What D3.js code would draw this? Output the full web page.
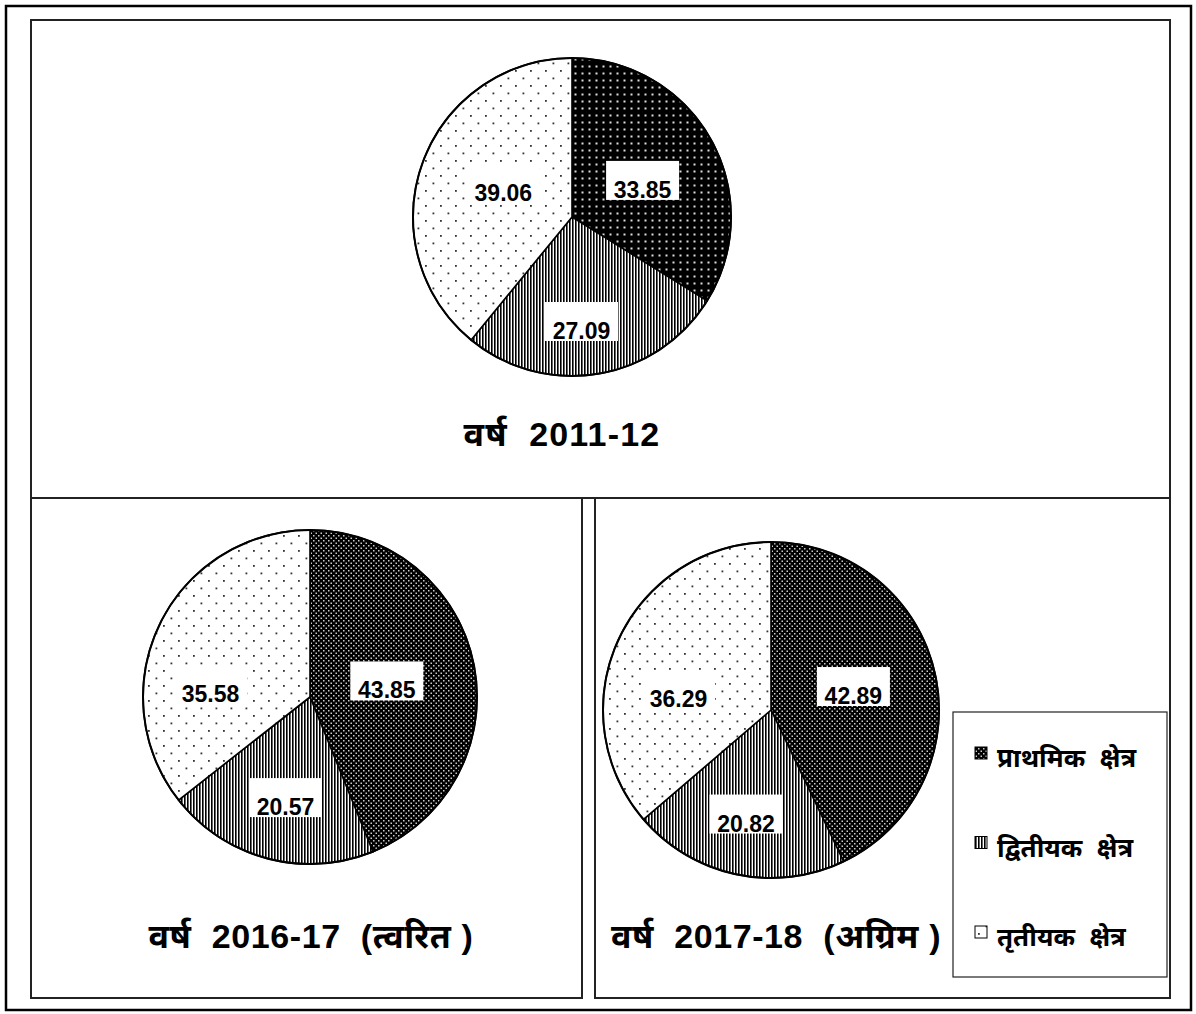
<!DOCTYPE html>
<html>
<head>
<meta charset="utf-8">
<script src="https://cdn.jsdelivr.net/npm/d3@7"></script>
<style>
  html, body { margin: 0; padding: 0; background: #fff; }
  svg { display: block; }
  text { font-family: "Liberation Sans", Arial, "Noto Sans", "Noto Sans Devanagari", sans-serif; font-weight: bold; }
</style>
</head>
<body>
<svg id="chart" width="1196" height="1014"></svg>
<script>
// ---- data ----
const years = ["वर्ष  2011-12", "वर्ष  2016-17  (त्वरित )", "वर्ष  2017-18  (अग्रिम )"];
const sectors = ["प्राथमिक  क्षेत्र", "द्वितीयक  क्षेत्र", "तृतीयक  क्षेत्र"];
const primary = [33.85, 43.85, 42.89];
const secondary = [27.09, 20.57, 20.82];
const tertiary = [39.06, 35.58, 36.29];

// ---- layout ----
const W = 1196, H = 1014;
const panels = [
  { x: 31, y: 20, w: 1139, h: 478, cx: 572, cy: 217, r: 159, tx: 562, ty: 446, ls: 1.2, fs: 34 },
  { x: 31, y: 498, w: 551, h: 500, cx: 310, cy: 697, r: 167, tx: 311, ty: 948, ls: 0.6, fs: 34 },
  { x: 595, y: 498, w: 575, h: 500, cx: 771, cy: 710, r: 168, tx: 776, ty: 948, ls: 0.6, fs: 34 }
];
// label placement (angle in degrees clockwise from 12 o'clock, radius fraction)
const labelLayout = [
  [[62.6, 0.50], [174.8, 0.66], [295.9, 0.48]],
  [[78.2, 0.47], [193.7, 0.62], [277, 0.60]],
  [[74.1, 0.51], [193.5, 0.637], [282.5, 0.564]]
];

const svg = d3.select("#chart");
const defs = svg.append("defs");

// patterns
function primaryPattern(id, s) {
  const p = defs.append("pattern").attr("id", id).attr("patternUnits", "userSpaceOnUse")
    .attr("width", s).attr("height", s);
  p.append("rect").attr("width", s).attr("height", s).attr("fill", "#000");
  if (s >= 7) {
    p.append("rect").attr("x", s / 2 - 1).attr("y", s / 2 - 1).attr("width", 2).attr("height", 2).attr("fill", "#ddd");
  } else {
    p.append("rect").attr("x", 0.5).attr("y", 0.5).attr("width", 1.5).attr("height", 1.5).attr("fill", "#ccc");
    p.append("rect").attr("x", s / 2 + 0.5).attr("y", s / 2 + 0.5).attr("width", 1.5).attr("height", 1.5).attr("fill", "#ccc");
  }
}
primaryPattern("pri7", 7);
primaryPattern("pri5", 5);

const sp = defs.append("pattern").attr("id", "sec").attr("patternUnits", "userSpaceOnUse")
  .attr("width", 3).attr("height", 3);
sp.append("rect").attr("width", 3).attr("height", 3).attr("fill", "#fff");
sp.append("rect").attr("width", 1.6).attr("height", 3).attr("fill", "#000");

const tp = defs.append("pattern").attr("id", "ter").attr("patternUnits", "userSpaceOnUse")
  .attr("width", 15).attr("height", 15);
tp.append("rect").attr("width", 15).attr("height", 15).attr("fill", "#fff");
tp.append("rect").attr("x", 3).attr("y", 3).attr("width", 1.8).attr("height", 1.8).attr("fill", "#333");
tp.append("rect").attr("x", 10.5).attr("y", 10.5).attr("width", 1.8).attr("height", 1.8).attr("fill", "#333");

// outer frame
svg.append("rect").attr("x", 6).attr("y", 6).attr("width", W - 11).attr("height", H - 10)
  .attr("fill", "none").attr("stroke", "#000").attr("stroke-width", 2.5);

const pie = d3.pie().sort(null).value(d => d);
const fills = (i, k) => [k === 0 ? "url(#pri7)" : "url(#pri5)", "url(#sec)", "url(#ter)"][i];

panels.forEach((pn, k) => {
  svg.append("rect").attr("x", pn.x).attr("y", pn.y).attr("width", pn.w).attr("height", pn.h)
    .attr("fill", "none").attr("stroke", "#222").attr("stroke-width", 2);

  const vals = [primary[k], secondary[k], tertiary[k]];
  const arcs = pie(vals);
  const arc = d3.arc().innerRadius(0).outerRadius(pn.r);
  const g = svg.append("g").attr("transform", `translate(${pn.cx},${pn.cy})`);

  g.selectAll("path.slice").data(arcs).join("path")
    .attr("class", "slice")
    .attr("d", arc)
    .attr("fill", (d, i) => fills(i, k))
    .attr("stroke", "#000").attr("stroke-width", 1.6).attr("stroke-linejoin", "round");

  g.append("circle").attr("r", pn.r).attr("fill", "none").attr("stroke", "#000").attr("stroke-width", 2);

  // labels
  const bw = 73, bh = 39;
  arcs.forEach((d, i) => {
    const [ang, fr] = labelLayout[k][i];
    const a = ang * Math.PI / 180;
    const lx = Math.sin(a) * pn.r * fr, ly = -Math.cos(a) * pn.r * fr;
    g.append("rect").attr("x", lx - bw / 2).attr("y", ly - bh / 2).attr("width", bw).attr("height", bh).attr("fill", "#fff");
    g.append("text").attr("x", lx).attr("y", ly + bh / 2 - 2)
      .attr("text-anchor", "middle").attr("font-size", 23).attr("fill", "#000")
      .text(d3.format(".2f")(d.data));
  });

  svg.append("text").attr("x", pn.tx).attr("y", pn.ty).attr("text-anchor", "middle")
    .attr("font-size", pn.fs).attr("letter-spacing", pn.ls).style("white-space", "pre").attr("fill", "#000").text(years[k]);
});

// legend
const lg = svg.append("g");
lg.append("rect").attr("x", 953).attr("y", 712).attr("width", 214).attr("height", 265)
  .attr("fill", "#fff").attr("stroke", "#222").attr("stroke-width", 1.2);
const legendY = d3.scalePoint().domain(sectors).range([767, 946]);
const legendFills = ["url(#pri5)", "url(#sec)", "url(#ter)"];
sectors.forEach((s, i) => {
  const y = legendY(s);
  lg.append("rect").attr("x", 975).attr("y", y - 20).attr("width", 12).attr("height", 12)
    .attr("fill", legendFills[i]).attr("stroke", "#000").attr("stroke-width", 1);
  lg.append("text").attr("x", 997).attr("y", y).attr("font-size", 26)
    .style("white-space", "pre").attr("fill", "#000").text(s);
});
</script>
</body>
</html>
